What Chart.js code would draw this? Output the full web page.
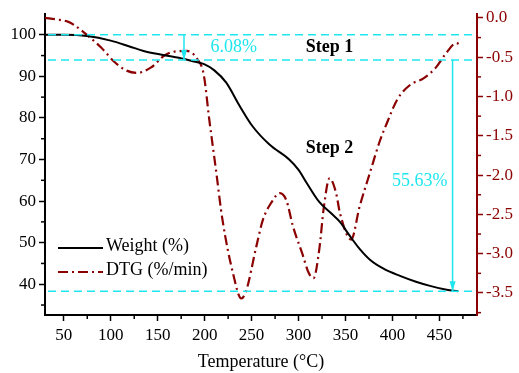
<!DOCTYPE html>
<html>
<head>
<meta charset="utf-8">
<script src="https://cdn.jsdelivr.net/npm/chart.js@4.4.0/dist/chart.umd.min.js"></script>
<style>
html, body { margin: 0; padding: 0; background: #fff; }
#wrap { width: 519px; height: 373px; }
</style>
</head>
<body>
<div id="wrap"><canvas id="tgaChart"></canvas></div>
<script>
// TGA data
const weightTemps  = [30, 50, 75, 100, 120, 135, 157, 178, 190, 200, 210, 223, 237, 251, 269, 290, 300, 308, 322, 335, 344, 354, 365, 376, 390, 408, 425, 440, 455, 470];
const weightValues = [100, 100, 99.7, 98.6, 97.2, 96.1, 95.1, 94.2, 93.5, 92.9, 91.5, 88.5, 83, 78, 73.6, 70, 67.5, 64.6, 59.8, 57, 55, 51.8, 48.5, 45.9, 43.8, 42, 40.6, 39.6, 38.8, 38.3];

const dtgTemps  = [30, 43, 55, 61, 75, 90, 104, 115, 128, 143, 157, 167, 181, 192, 199, 205, 212, 219, 230, 239, 244, 255, 262, 271, 280, 287, 294, 304, 311, 316, 322, 327, 333, 340, 344, 356, 365, 376, 387, 394, 405, 419, 433, 447, 457, 468, 472];
const dtgValues = [0.0, -0.02, -0.05, -0.09, -0.22, -0.38, -0.56, -0.66, -0.70, -0.63, -0.48, -0.43, -0.42, -0.52, -0.72, -1.3, -1.93, -2.57, -3.24, -3.57, -3.48, -2.91, -2.57, -2.35, -2.23, -2.32, -2.65, -3.0, -3.25, -3.31, -2.95, -2.40, -2.04, -2.23, -2.48, -2.82, -2.40, -1.97, -1.55, -1.34, -1.04, -0.85, -0.77, -0.62, -0.45, -0.32, -0.34];

const xTicks      = [50, 100, 150, 200, 250, 300, 350, 400, 450];
const xMinorTicks = [75, 125, 175, 225, 275, 325, 375, 425, 475];
const weightTicks      = [40, 50, 60, 70, 80, 90, 100];
const weightMinorTicks = [35, 45, 55, 65, 75, 85, 95];
const dtgTicks      = [0, -0.5, -1.0, -1.5, -2.0, -2.5, -3.0, -3.5];
const dtgMinorTicks = [-0.25, -0.75, -1.25, -1.75, -2.25, -2.75, -3.25, -3.75];

// mass-loss steps
const stepLevels     = [100, 93.92, 38.29];
const stepArrowTemps = [178, 464];
const lossLabels     = ['6.08%', '55.63%'];
const lossLabelPos   = [[231, 96.96], [429, 64.7]];
const stepNames      = ['Step 1', 'Step 2'];
const stepNamePos    = [[333, 96.96], [333, 72.6]];

const FONT = 'Liberation Serif, Times New Roman, serif';
const CYAN = '#1ee6ee';
const DARKRED = '#8b0000';

function drawArrowDown(ctx, px, y0, y1) {
    ctx.beginPath();
    ctx.moveTo(px, y0);
    ctx.lineTo(px, y1);
    ctx.stroke();
    ctx.beginPath();
    ctx.moveTo(px, y1);
    ctx.lineTo(px - 3, y1 - 10);
    ctx.lineTo(px + 3, y1 - 10);
    ctx.closePath();
    ctx.fill();
}

const minorTickPlugin = {
    id: 'minorTicks',
    afterDraw(chart) {
        const { ctx, chartArea, scales } = chart;
        ctx.save();
        ctx.lineWidth = 1.5;
        ctx.strokeStyle = '#000';
        xMinorTicks.forEach(v => {
            const px = scales.x.getPixelForValue(v);
            if (px < chartArea.left || px > chartArea.right) return;
            ctx.beginPath();
            ctx.moveTo(px, chartArea.bottom);
            ctx.lineTo(px, chartArea.bottom + 4);
            ctx.stroke();
        });
        weightMinorTicks.forEach(v => {
            const py = scales.y.getPixelForValue(v);
            ctx.beginPath();
            ctx.moveTo(chartArea.left, py);
            ctx.lineTo(chartArea.left - 4, py);
            ctx.stroke();
        });
        ctx.strokeStyle = DARKRED;
        dtgMinorTicks.forEach(v => {
            const py = scales.y1.getPixelForValue(v);
            ctx.beginPath();
            ctx.moveTo(chartArea.right, py);
            ctx.lineTo(chartArea.right + 4, py);
            ctx.stroke();
        });
        ctx.restore();
    }
};

const annotationPlugin = {
    id: 'stepAnnotations',
    afterDatasetsDraw(chart) {
        const { ctx, chartArea, scales } = chart;
        const x = scales.x, y = scales.y;
        ctx.save();
        ctx.strokeStyle = CYAN;
        ctx.fillStyle = CYAN;
        ctx.lineWidth = 1.5;
        ctx.setLineDash([8, 5]);
        stepLevels.forEach(v => {
            const py = y.getPixelForValue(v);
            ctx.beginPath();
            ctx.moveTo(chartArea.left + 3, py);
            ctx.lineTo(chartArea.right - 2, py);
            ctx.stroke();
        });
        ctx.setLineDash([]);
        drawArrowDown(ctx, x.getPixelForValue(stepArrowTemps[0]), y.getPixelForValue(stepLevels[0]), y.getPixelForValue(stepLevels[1]));
        drawArrowDown(ctx, x.getPixelForValue(stepArrowTemps[1]), y.getPixelForValue(stepLevels[1]), y.getPixelForValue(stepLevels[2]));

        ctx.textAlign = 'center';
        ctx.textBaseline = 'middle';
        ctx.font = '18px ' + FONT;
        lossLabels.forEach((t, i) => {
            ctx.fillText(t, x.getPixelForValue(lossLabelPos[i][0]), y.getPixelForValue(lossLabelPos[i][1]));
        });
        ctx.fillStyle = '#000';
        ctx.font = 'bold 18px ' + FONT;
        stepNames.forEach((t, i) => {
            ctx.fillText(t, x.getPixelForValue(stepNamePos[i][0]), y.getPixelForValue(stepNamePos[i][1]));
        });
        ctx.restore();
    }
};

// legend in the lower left corner of the plot
const legendPlugin = {
    id: 'cornerLegend',
    afterDraw(chart) {
        const { ctx, chartArea } = chart;
        ctx.save();
        ctx.font = '18px ' + FONT;
        ctx.textBaseline = 'middle';
        ctx.textAlign = 'left';
        chart.data.datasets.forEach((ds, i) => {
            const ly = chartArea.bottom - 67 + i * 24;
            const lx = chartArea.left + 13;
            ctx.strokeStyle = ds.borderColor;
            ctx.lineWidth = ds.borderWidth;
            ctx.setLineDash(ds.borderDash || []);
            ctx.beginPath();
            ctx.moveTo(lx, ly);
            ctx.lineTo(lx + 45, ly);
            ctx.stroke();
            ctx.setLineDash([]);
            ctx.fillStyle = '#000';
            ctx.fillText(ds.label, lx + 48, ly - 2);
        });
        ctx.restore();
    }
};

const ctx = document.getElementById('tgaChart').getContext('2d');
new Chart(ctx, {
    type: 'line',
    data: {
        datasets: [{
            label: 'Weight (%)',
            data: weightTemps.map((t, i) => ({ x: t, y: weightValues[i] })),
            yAxisID: 'y',
            borderColor: '#000',
            borderWidth: 2,
            pointRadius: 0,
            cubicInterpolationMode: 'monotone'
        }, {
            label: 'DTG (%/min)',
            data: dtgTemps.map((t, i) => ({ x: t, y: dtgValues[i] })),
            yAxisID: 'y1',
            borderColor: DARKRED,
            borderWidth: 2.2,
            borderDash: [10, 4, 2, 4],
            pointRadius: 0,
            cubicInterpolationMode: 'monotone'
        }]
    },
    options: {
        responsive: true,
        maintainAspectRatio: false,
        animation: false,
        layout: { padding: { top: 14, left: 0, right: 0, bottom: 0 } },
        plugins: {
            legend: { display: false },
            tooltip: { enabled: false }
        },
        scales: {
            x: {
                type: 'linear',
                min: 30,
                max: 490,
                afterBuildTicks: s => { s.ticks = xTicks.map(v => ({ value: v })); },
                afterFit: s => { s.height = 58; },
                grid: { drawOnChartArea: false, tickLength: 6, tickColor: '#000', tickWidth: 1.5 },
                border: { color: '#000', width: 2 },
                ticks: { color: '#000', font: { family: FONT, size: 17 }, padding: 4, maxRotation: 0, autoSkip: false },
                title: { display: true, text: 'Temperature (°C)', color: '#000', font: { family: FONT, size: 18 }, padding: 0 }
            },
            y: {
                position: 'left',
                min: 32.6,
                max: 105,
                afterBuildTicks: s => { s.ticks = weightTicks.map(v => ({ value: v })); },
                afterFit: s => { s.width = 45; },
                grid: { drawOnChartArea: false, tickLength: 6, tickColor: '#000', tickWidth: 1.5 },
                border: { color: '#000', width: 2 },
                ticks: { color: '#000', font: { family: FONT, size: 17 }, padding: 3, autoSkip: false }
            },
            y1: {
                position: 'right',
                min: -3.78,
                max: 0.05,
                afterBuildTicks: s => { s.ticks = dtgTicks.map(v => ({ value: v })); },
                afterFit: s => { s.width = 42; },
                grid: { drawOnChartArea: false, tickLength: 6, tickColor: DARKRED, tickWidth: 1.5 },
                border: { color: DARKRED, width: 2 },
                ticks: {
                    color: DARKRED,
                    font: { family: FONT, size: 17 },
                    padding: 3,
                    autoSkip: false,
                    callback: v => v.toFixed(1)
                }
            }
        }
    },
    plugins: [minorTickPlugin, annotationPlugin, legendPlugin]
});
</script>
</body>
</html>
